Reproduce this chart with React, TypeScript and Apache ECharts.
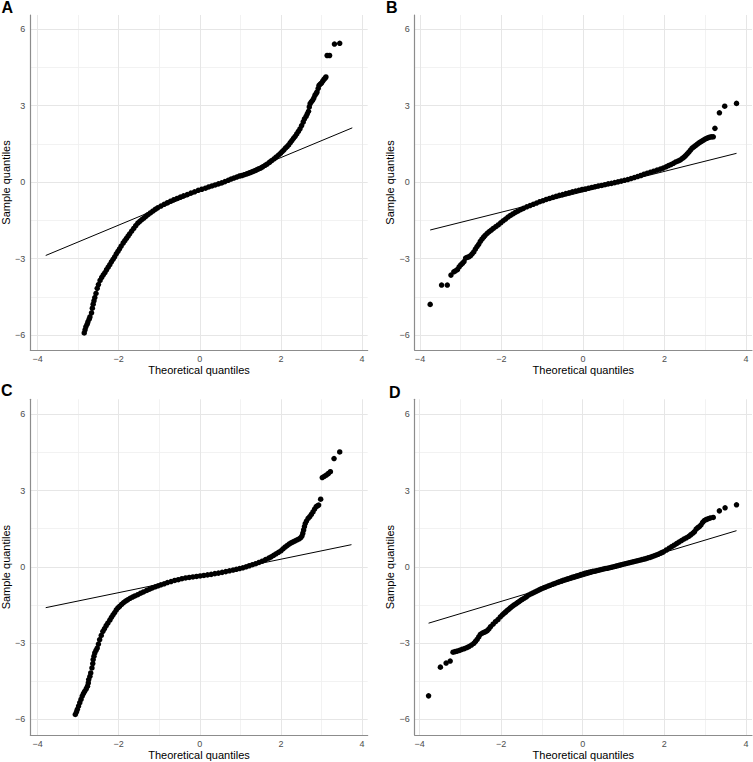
import React, { useEffect, useRef } from "react";
import * as echarts from "echarts";

// ---- tick values & labels ----
const xMajor = [-4, -2, 0, 2, 4];
const xMinor = [-3, -1, 1, 3];
const yMajor = [-6, -3, 0, 3, 6];
const yMinor = [-4.5, -1.5, 1.5, 4.5];
const panelLabels = ["A", "B", "C", "D"];
const xTitle = "Theoretical quantiles";
const yTitle = "Sample quantiles";

// ---- data: [theoretical, sample] ----
const qqA: [number, number][] = [
  [-2.85, -5.92], [-2.83, -5.8], [-2.81, -5.68], [-2.78, -5.58], [-2.76, -5.49], [-2.73, -5.38], [-2.71, -5.29],
  [-2.67, -5.13], [-2.65, -4.95], [-2.63, -4.79], [-2.61, -4.66], [-2.59, -4.53], [-2.56, -4.37], [-2.53, -4.17],
  [-2.5, -4.02], [-2.46, -3.86], [-2.42, -3.74], [-2.38, -3.64], [-2.34, -3.55], [-2.3, -3.44], [-2.26, -3.34],
  [-2.22, -3.24], [-2.18, -3.13], [-2.14, -3.03], [-2.1, -2.93], [-2.06, -2.82], [-2.02, -2.72], [-1.98, -2.62],
  [-1.94, -2.51], [-1.89, -2.39], [-1.85, -2.3], [-1.81, -2.21], [-1.77, -2.12], [-1.73, -2.03], [-1.68, -1.92],
  [-1.63, -1.82], [-1.58, -1.71], [-1.53, -1.61], [-1.48, -1.54], [-1.43, -1.47], [-1.38, -1.41], [-1.33, -1.34],
  [-1.28, -1.28], [-1.22, -1.21], [-1.16, -1.14], [-1.1, -1.07], [-1.04, -1.01], [-0.96, -0.94], [-0.88, -0.87],
  [-0.8, -0.81], [-0.72, -0.75], [-0.64, -0.69], [-0.56, -0.64], [-0.48, -0.59], [-0.4, -0.54], [-0.31, -0.49],
  [-0.22, -0.43], [-0.13, -0.38], [-0.04, -0.32], [0.05, -0.28], [0.14, -0.24], [0.22, -0.19], [0.3, -0.15],
  [0.38, -0.11], [0.46, -0.07], [0.54, -0.03], [0.62, 0.02], [0.7, 0.07], [0.77, 0.12], [0.84, 0.16], [0.91, 0.2],
  [0.98, 0.24], [1.04, 0.26], [1.1, 0.29], [1.16, 0.32], [1.21, 0.35], [1.26, 0.38], [1.32, 0.42], [1.38, 0.46],
  [1.44, 0.51], [1.5, 0.55], [1.55, 0.6], [1.61, 0.66], [1.66, 0.71], [1.72, 0.78], [1.77, 0.84], [1.83, 0.91],
  [1.88, 0.98], [1.94, 1.06], [1.99, 1.13], [2.03, 1.2], [2.07, 1.26], [2.11, 1.33], [2.15, 1.39], [2.19, 1.46],
  [2.23, 1.55], [2.27, 1.63], [2.31, 1.72], [2.35, 1.8], [2.39, 1.89], [2.43, 1.99], [2.47, 2.09], [2.51, 2.22],
  [2.55, 2.36], [2.58, 2.48], [2.62, 2.58], [2.65, 2.68], [2.68, 2.78], [2.7, 2.95], [2.72, 3.08], [2.75, 3.15],
  [2.78, 3.21], [2.81, 3.3], [2.84, 3.41], [2.87, 3.48], [2.89, 3.54], [2.92, 3.68], [2.94, 3.8], [2.97, 3.85],
  [3.0, 3.89], [3.03, 3.96], [3.06, 4.03], [3.09, 4.08], [3.11, 4.13], [3.14, 4.97], [3.2, 4.97], [3.32, 5.42],
  [3.45, 5.45],
];
const lineA: [number, number][] = [[-3.8, -2.88], [3.76, 2.13]];

const qqB: [number, number][] = [
  [-3.75, -4.8], [-3.47, -4.04], [-3.33, -4.04], [-3.24, -3.65], [-3.17, -3.52], [-3.13, -3.48], [-3.08, -3.43],
  [-3.04, -3.33], [-3.0, -3.25], [-2.96, -3.19], [-2.92, -3.12], [-2.88, -2.98], [-2.84, -2.95], [-2.8, -2.93],
  [-2.76, -2.89], [-2.72, -2.82], [-2.68, -2.74], [-2.64, -2.63], [-2.6, -2.53], [-2.56, -2.44], [-2.52, -2.33],
  [-2.48, -2.24], [-2.44, -2.16], [-2.4, -2.09], [-2.35, -2.01], [-2.3, -1.94], [-2.25, -1.88], [-2.2, -1.82],
  [-2.14, -1.75], [-2.08, -1.68], [-2.02, -1.6], [-1.96, -1.52], [-1.9, -1.45], [-1.84, -1.37], [-1.78, -1.31],
  [-1.72, -1.25], [-1.66, -1.19], [-1.6, -1.14], [-1.53, -1.08], [-1.46, -1.03], [-1.38, -0.97], [-1.3, -0.92],
  [-1.22, -0.87], [-1.14, -0.82], [-1.06, -0.77], [-0.98, -0.73], [-0.9, -0.68], [-0.82, -0.64], [-0.74, -0.6],
  [-0.66, -0.56], [-0.58, -0.52], [-0.5, -0.49], [-0.42, -0.45], [-0.34, -0.42], [-0.26, -0.38], [-0.18, -0.35],
  [-0.1, -0.32], [-0.02, -0.29], [0.06, -0.27], [0.14, -0.24], [0.22, -0.21], [0.3, -0.18], [0.38, -0.15],
  [0.46, -0.13], [0.54, -0.1], [0.62, -0.07], [0.7, -0.05], [0.78, -0.02], [0.86, 0.01], [0.94, 0.04], [1.02, 0.07],
  [1.1, 0.1], [1.18, 0.14], [1.26, 0.18], [1.34, 0.22], [1.42, 0.26], [1.5, 0.31], [1.58, 0.35], [1.66, 0.39],
  [1.74, 0.43], [1.82, 0.47], [1.9, 0.51], [1.97, 0.55], [2.04, 0.6], [2.1, 0.65], [2.16, 0.69], [2.22, 0.74],
  [2.28, 0.79], [2.34, 0.83], [2.39, 0.87], [2.44, 0.93], [2.48, 0.98], [2.52, 1.04], [2.56, 1.11], [2.6, 1.18],
  [2.64, 1.26], [2.68, 1.33], [2.72, 1.38], [2.76, 1.43], [2.8, 1.48], [2.84, 1.53], [2.88, 1.57], [2.92, 1.61],
  [2.96, 1.65], [3.0, 1.69], [3.04, 1.72], [3.08, 1.75], [3.12, 1.77], [3.16, 1.78], [3.2, 1.78], [3.24, 2.11],
  [3.35, 2.72], [3.48, 2.98], [3.77, 3.09],
];
const lineB: [number, number][] = [[-3.75, -1.88], [3.77, 1.13]];

const qqC: [number, number][] = [
  [-3.07, -5.81], [-3.04, -5.71], [-3.02, -5.61], [-2.99, -5.48], [-2.96, -5.35], [-2.93, -5.22], [-2.9, -5.09],
  [-2.87, -4.99], [-2.84, -4.9], [-2.8, -4.8], [-2.77, -4.7], [-2.75, -4.57], [-2.74, -4.44], [-2.71, -4.31],
  [-2.69, -4.18], [-2.66, -3.98], [-2.64, -3.81], [-2.63, -3.65], [-2.61, -3.52], [-2.59, -3.39], [-2.56, -3.29],
  [-2.53, -3.2], [-2.5, -3.04], [-2.47, -2.87], [-2.43, -2.7], [-2.39, -2.54], [-2.35, -2.43], [-2.31, -2.32],
  [-2.27, -2.22], [-2.22, -2.1], [-2.18, -1.99], [-2.14, -1.89], [-2.1, -1.8], [-2.06, -1.7], [-2.02, -1.62],
  [-1.98, -1.56], [-1.93, -1.48], [-1.88, -1.41], [-1.83, -1.35], [-1.78, -1.3], [-1.72, -1.24], [-1.66, -1.19],
  [-1.6, -1.15], [-1.53, -1.1], [-1.46, -1.04], [-1.39, -0.99], [-1.31, -0.93], [-1.24, -0.88], [-1.17, -0.83],
  [-1.1, -0.79], [-1.03, -0.75], [-0.96, -0.71], [-0.88, -0.67], [-0.8, -0.62], [-0.71, -0.58], [-0.62, -0.54],
  [-0.53, -0.51], [-0.44, -0.47], [-0.35, -0.44], [-0.26, -0.42], [-0.17, -0.4], [-0.08, -0.38], [0.01, -0.36],
  [0.1, -0.34], [0.19, -0.32], [0.28, -0.3], [0.37, -0.27], [0.46, -0.25], [0.55, -0.22], [0.64, -0.19],
  [0.73, -0.16], [0.82, -0.13], [0.9, -0.1], [0.98, -0.07], [1.06, -0.04], [1.14, 0.0], [1.22, 0.04], [1.3, 0.08],
  [1.38, 0.12], [1.46, 0.17], [1.54, 0.22], [1.62, 0.28], [1.7, 0.34], [1.76, 0.39], [1.82, 0.45], [1.88, 0.51],
  [1.94, 0.57], [2.0, 0.63], [2.05, 0.7], [2.1, 0.77], [2.15, 0.83], [2.2, 0.89], [2.25, 0.94], [2.3, 0.98],
  [2.35, 1.02], [2.4, 1.06], [2.45, 1.1], [2.49, 1.15], [2.52, 1.22], [2.54, 1.32], [2.56, 1.45], [2.58, 1.58],
  [2.6, 1.7], [2.63, 1.8], [2.67, 1.9], [2.71, 1.97], [2.75, 2.06], [2.79, 2.16], [2.83, 2.27], [2.87, 2.37],
  [2.9, 2.4], [2.93, 2.43], [2.98, 2.66], [3.02, 3.51], [3.07, 3.56], [3.12, 3.61], [3.17, 3.67], [3.22, 3.74],
  [3.31, 4.26], [3.45, 4.52],
];
const lineC: [number, number][] = [[-3.8, -1.61], [3.74, 0.87]];

const qqD: [number, number][] = [
  [-3.78, -5.08], [-3.49, -3.95], [-3.35, -3.79], [-3.25, -3.71], [-3.18, -3.36], [-3.13, -3.34], [-3.08, -3.32],
  [-3.02, -3.29], [-2.96, -3.25], [-2.9, -3.22], [-2.84, -3.18], [-2.79, -3.14], [-2.73, -3.08], [-2.67, -3.01],
  [-2.63, -2.94], [-2.59, -2.86], [-2.55, -2.76], [-2.51, -2.66], [-2.46, -2.61], [-2.42, -2.58], [-2.38, -2.55],
  [-2.34, -2.51], [-2.3, -2.44], [-2.26, -2.36], [-2.2, -2.26], [-2.14, -2.16], [-2.08, -2.08], [-2.02, -1.97],
  [-1.97, -1.89], [-1.93, -1.83], [-1.89, -1.78], [-1.85, -1.72], [-1.81, -1.67], [-1.77, -1.61], [-1.73, -1.56],
  [-1.69, -1.51], [-1.64, -1.46], [-1.6, -1.41], [-1.56, -1.37], [-1.52, -1.32], [-1.48, -1.28], [-1.43, -1.23],
  [-1.38, -1.18], [-1.33, -1.12], [-1.27, -1.07], [-1.22, -1.03], [-1.17, -0.99], [-1.12, -0.95], [-1.07, -0.91],
  [-1.02, -0.87], [-0.96, -0.83], [-0.91, -0.8], [-0.85, -0.76], [-0.8, -0.73], [-0.74, -0.69], [-0.69, -0.66],
  [-0.63, -0.62], [-0.58, -0.59], [-0.52, -0.56], [-0.47, -0.53], [-0.41, -0.5], [-0.36, -0.47], [-0.3, -0.44],
  [-0.25, -0.41], [-0.2, -0.39], [-0.15, -0.36], [-0.1, -0.34], [-0.05, -0.31], [0.0, -0.29], [0.05, -0.26],
  [0.1, -0.24], [0.15, -0.22], [0.2, -0.2], [0.25, -0.18], [0.3, -0.17], [0.35, -0.15], [0.4, -0.13],
  [0.45, -0.11], [0.5, -0.09], [0.55, -0.07], [0.6, -0.06], [0.65, -0.04], [0.7, -0.02], [0.75, 0.0], [0.8, 0.02],
  [0.85, 0.04], [0.9, 0.06], [0.95, 0.08], [1.0, 0.1], [1.05, 0.12], [1.1, 0.14], [1.15, 0.16], [1.2, 0.18],
  [1.25, 0.2], [1.3, 0.22], [1.35, 0.24], [1.4, 0.26], [1.45, 0.28], [1.5, 0.3], [1.55, 0.32], [1.6, 0.35],
  [1.65, 0.37], [1.7, 0.4], [1.75, 0.43], [1.8, 0.46], [1.85, 0.49], [1.9, 0.53], [1.94, 0.56], [1.98, 0.59],
  [2.05, 0.66], [2.12, 0.73], [2.18, 0.79], [2.24, 0.85], [2.3, 0.91], [2.36, 0.97], [2.42, 1.03], [2.48, 1.09],
  [2.54, 1.14], [2.6, 1.2], [2.65, 1.26], [2.7, 1.32], [2.74, 1.38], [2.78, 1.48], [2.82, 1.54], [2.86, 1.58],
  [2.9, 1.65], [2.94, 1.75], [2.98, 1.82], [3.03, 1.86], [3.08, 1.89], [3.13, 1.92], [3.2, 1.94], [3.35, 2.2],
  [3.49, 2.32], [3.77, 2.44],
];
const lineD: [number, number][] = [[-3.78, -2.22], [3.77, 1.42]];

const panelPoints = [qqA, qqB, qqC, qqD];
const panelLines = [lineA, lineB, lineC, lineD];

// ---- layout (pixels) ----
const layout = [
  { left: 30.3, top: 15, width: 337.4, height: 335, xMin: -4.18, xMax: 4.14, yMin: -6.59, yMax: 6.56, lx: 1.5, ly: -1 },
  { left: 414.7, top: 15, width: 337.3, height: 335, xMin: -4.13, xMax: 4.15, yMin: -6.59, yMax: 6.56, lx: 386, ly: -1 },
  { left: 30.3, top: 399.3, width: 337.4, height: 335.7, xMin: -4.18, xMax: 4.14, yMin: -6.62, yMax: 6.59, lx: 1, ly: 382.5 },
  { left: 414.7, top: 399.3, width: 337.3, height: 335.7, xMin: -4.12, xMax: 4.15, yMin: -6.62, yMax: 6.59, lx: 389, ly: 384 },
];

const FONT = '"Liberation Sans", Arial, Helvetica, sans-serif';
const fmt = (v: number) => (v < 0 ? "\u2212" + Math.abs(v) : String(v));

export default function App() {
  const ref = useRef<HTMLDivElement>(null);
  useEffect(() => {
    if (!ref.current) return;
    const chart = echarts.init(ref.current, undefined, { renderer: "svg" });
    const majorStyle = { color: "#e6e6e6", width: 1, type: "solid" as const };
    const minorStyle = { color: "#efefef", width: 0.8, type: "solid" as const };

    const grid = layout.map((l) => ({
      left: l.left, top: l.top, width: l.width, height: l.height,
      containLabel: false, outerBoundsMode: "none",
    }));
    const xAxis = layout.map((l, i) => ({
      type: "value", gridIndex: i, min: l.xMin, max: l.xMax,
      axisLine: { show: true, onZero: false, lineStyle: { color: "#8c8c8c", width: 1.2 } },
      axisTick: { show: false },
      splitLine: { show: false },
      axisLabel: { customValues: xMajor, formatter: fmt, color: "#4d4d4d", fontSize: 9, margin: 4, fontFamily: FONT },
      name: xTitle, nameLocation: "middle", nameGap: 14,
      nameTextStyle: { fontSize: 11, color: "#000", fontFamily: FONT },
      z: 6,
    }));
    const yAxis = layout.map((l, i) => ({
      type: "value", gridIndex: i, min: l.yMin, max: l.yMax,
      axisLine: { show: true, onZero: false, lineStyle: { color: "#8c8c8c", width: 1.2 } },
      axisTick: { show: false },
      splitLine: { show: false },
      axisLabel: { customValues: yMajor, formatter: fmt, color: "#4d4d4d", fontSize: 9, margin: 5, fontFamily: FONT },
      name: yTitle, nameLocation: "middle", nameGap: 18,
      nameTextStyle: { fontSize: 11, color: "#000", fontFamily: FONT },
      z: 6,
    }));
    const series: any[] = [];
    layout.forEach((_, i) => {
      series.push({
        type: "scatter", xAxisIndex: i, yAxisIndex: i, data: [[0, 0]], symbolSize: 0,
        itemStyle: { opacity: 0 }, silent: true, z: 0,
        markLine: {
          z: 0,
          silent: true, symbol: ["none", "none"], label: { show: false }, lineStyle: majorStyle,
          emphasis: { disabled: true },
          data: [
            ...xMinor.map((v) => ({ xAxis: v, lineStyle: minorStyle })),
            ...yMinor.map((v) => ({ yAxis: v, lineStyle: minorStyle })),
            ...xMajor.map((v) => ({ xAxis: v, lineStyle: majorStyle })),
            ...yMajor.map((v) => ({ yAxis: v, lineStyle: majorStyle })),
          ],
        },
      });
      series.push({
        type: "scatter", xAxisIndex: i, yAxisIndex: i, data: panelPoints[i], symbolSize: 5.5,
        itemStyle: { color: "#000", opacity: 1 }, silent: true, z: 3,
      });
      series.push({
        type: "line", xAxisIndex: i, yAxisIndex: i, data: panelLines[i], symbol: "none",
        lineStyle: { color: "#000", width: 1 }, silent: true, z: 4,
      });
    });
    const graphic = layout.map((l, i) => ({
      type: "text", x: l.lx, y: l.ly,
      style: { text: panelLabels[i], font: `bold 16px ${FONT}`, fill: "#000", textVerticalAlign: "top", textAlign: "left" },
    }));
    chart.setOption({
      animation: false,
      backgroundColor: "#fff",
      grid, xAxis, yAxis, series, graphic,
    } as any);
    return () => chart.dispose();
  }, []);
  return (
    <div
      ref={ref}
      style={{ position: "absolute", left: 0, top: 0, width: 753, height: 762 }}
    />
  );
}
